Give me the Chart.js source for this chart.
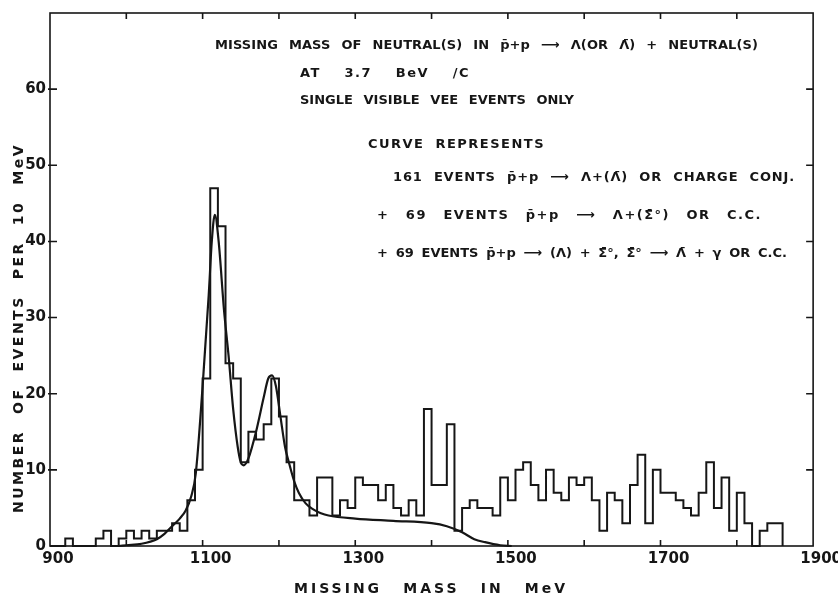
<!DOCTYPE html>
<html>
<head>
<meta charset="utf-8">
<script src="https://cdn.jsdelivr.net/npm/chart.js@4.4.0/dist/chart.umd.min.js"></script>
<style>
  html, body { margin: 0; padding: 0; background: #fff; }
</style>
</head>
<body>
<canvas id="canvas" width="838" height="599"></canvas>
<script>
// lower edge of each 10 MeV bin
const binLow = [
  900, 910, 920, 930, 940, 950, 960, 970, 980, 990,
  1000, 1010, 1020, 1030, 1040, 1050, 1060, 1070, 1080, 1090,
  1100, 1110, 1120, 1130, 1140, 1150, 1160, 1170, 1180, 1190,
  1200, 1210, 1220, 1230, 1240, 1250, 1260, 1270, 1280, 1290,
  1300, 1310, 1320, 1330, 1340, 1350, 1360, 1370, 1380, 1390,
  1400, 1410, 1420, 1430, 1440, 1450, 1460, 1470, 1480, 1490,
  1500, 1510, 1520, 1530, 1540, 1550, 1560, 1570, 1580, 1590,
  1600, 1610, 1620, 1630, 1640, 1650, 1660, 1670, 1680, 1690,
  1700, 1710, 1720, 1730, 1740, 1750, 1760, 1770, 1780, 1790,
  1800, 1810, 1820, 1830, 1840, 1850, 1860
];
// events per bin (last entry closes the histogram)
const counts = [
  0, 0, 1, 0, 0, 0, 1, 2, 0, 1,
  2, 1, 2, 1, 2, 2, 3, 2, 6, 10,
  22, 47, 42, 24, 22, 11, 15, 14, 16, 22,
  17, 11, 6, 6, 4, 9, 9, 4, 6, 5,
  9, 8, 8, 6, 8, 5, 4, 6, 4, 18,
  8, 8, 16, 2, 5, 6, 5, 5, 4, 9,
  6, 10, 11, 8, 6, 10, 7, 6, 9, 8,
  9, 6, 2, 7, 6, 3, 8, 12, 3, 10,
  7, 7, 6, 5, 4, 7, 11, 5, 9, 2,
  7, 3, 0, 2, 3, 3, 0
];

// fitted curve
const curveMass = [990, 1000, 1020, 1040, 1050, 1060, 1070, 1078, 1085, 1091, 1100, 1108, 1112, 1116, 1121, 1128, 1134, 1140, 1146, 1150, 1154, 1160, 1170, 1180, 1186, 1191, 1196, 1202, 1208, 1213, 1220, 1226, 1235, 1245, 1255, 1265, 1300, 1350, 1400, 1420, 1440, 1456, 1470, 1490, 1505];
const curveValue = [0, 0.1, 0.3, 0.9, 1.6, 2.6, 3.6, 4.7, 6.5, 9.5, 21, 33, 40, 43.5, 40, 31, 25, 18, 13, 11, 10.6, 11.5, 15, 19.5, 22, 22.4, 21, 17, 13, 11, 8.5, 7, 5.6, 4.8, 4.3, 4, 3.6, 3.3, 3.0, 2.6, 1.8, 0.9, 0.5, 0.1, 0];

const xTickLabels = [900, 1100, 1300, 1500, 1700, 1900];
const yTickLabels = [0, 10, 20, 30, 40, 50, 60];
const xTickMarks = [1000, 1100, 1200, 1300, 1400, 1500, 1600, 1700, 1800];
const yTickMarks = [10, 20, 30, 40, 50, 60];

const noteLines = [
  'MISSING MASS OF NEUTRAL(S) IN p\u0304+p \u27F6 \u039B(OR \u039B\u0304) + NEUTRAL(S)',
  'AT 3.7 BeV /C',
  'SINGLE VISIBLE VEE EVENTS ONLY',
  'CURVE REPRESENTS',
  '161 EVENTS p\u0304+p \u27F6 \u039B+(\u039B\u0304) OR CHARGE CONJ.',
  '+ 69 EVENTS p\u0304+p \u27F6 \u039B+(\u03A3\u0304\u00B0) OR C.C.',
  '+ 69 EVENTS p\u0304+p \u27F6 (\u039B) + \u03A3\u0304\u00B0, \u03A3\u0304\u00B0 \u27F6 \u039B\u0304 + \u03B3 OR C.C.'
];
const xTitle = 'MISSING MASS IN MeV';
const yTitle = 'NUMBER OF EVENTS PER 10 MeV';

// text placement (pixels): left, right, middle y
const noteBox = [
  [215, 758, 46], [300, 470, 74], [300, 574, 101], [368, 545, 145],
  [393, 795, 178], [377, 762, 216], [377, 787, 254]
];

const ink = '#161616';
const family = '"DejaVu Sans", sans-serif';
const hasSpacing = 'letterSpacing' in CanvasRenderingContext2D.prototype;

// spread a line from x0 to x1: some letter spacing, the rest in word gaps
function spreadText(ctx, text, x0, x1, y, wordGap, maxSpacing) {
  const words = text.split(' ');
  const letters = words.reduce((s, w) => s + [...w].length, 0);
  const natural = words.reduce((s, w) => s + ctx.measureText(w).width, 0);
  const room = x1 - x0 - natural - wordGap * (words.length - 1);
  const spacing = hasSpacing ? Math.max(0, Math.min(maxSpacing, room / letters)) : 0;
  if (hasSpacing) ctx.letterSpacing = spacing + 'px';
  const widths = words.map(w => ctx.measureText(w).width);
  const used = widths.reduce((s, w) => s + w, 0);
  const gap = words.length > 1 ? (x1 - x0 - used) / (words.length - 1) : 0;
  let x = x0;
  words.forEach((w, i) => {
    ctx.fillText(w, x, y);
    x += widths[i] + gap;
  });
  if (hasSpacing) ctx.letterSpacing = '0px';
}

const framePlugin = {
  id: 'frame',
  afterDatasetsDraw(chart) {
    const { ctx, chartArea: a, scales: { x, y } } = chart;
    ctx.save();
    ctx.strokeStyle = ink;
    ctx.lineWidth = 1.6;
    ctx.strokeRect(a.left, a.top, a.right - a.left, a.bottom - a.top);
    ctx.beginPath();
    xTickMarks.forEach(v => {
      const px = x.getPixelForValue(v);
      ctx.moveTo(px, a.bottom); ctx.lineTo(px, a.bottom - 6);
      ctx.moveTo(px, a.top); ctx.lineTo(px, a.top + 6);
    });
    yTickMarks.forEach(v => {
      const py = y.getPixelForValue(v);
      ctx.moveTo(a.left - 2, py); ctx.lineTo(a.left + 7, py);
      ctx.moveTo(a.right, py); ctx.lineTo(a.right - 7, py);
    });
    ctx.stroke();
    ctx.restore();
  }
};

const notesPlugin = {
  id: 'notes',
  afterDraw(chart) {
    const { ctx } = chart;
    ctx.save();
    ctx.fillStyle = ink;
    ctx.textBaseline = 'middle';
    ctx.textAlign = 'left';
    ctx.font = 'bold 13px ' + family;
    noteLines.forEach((t, i) => spreadText(ctx, t, noteBox[i][0], noteBox[i][1], noteBox[i][2], 11, 1.5));
    // axis titles
    ctx.font = 'bold 14px ' + family;
    spreadText(ctx, xTitle, 294, 568, 589, 16, 3);
    ctx.translate(19, 328);
    ctx.rotate(-Math.PI / 2);
    spreadText(ctx, yTitle, -185, 185, 0, 16, 3);
    ctx.restore();
  }
};

const histPoints = binLow.map((m, i) => ({ x: m, y: counts[i] }));
const curvePoints = curveMass.map((m, i) => ({ x: m, y: curveValue[i] }));

const ctx2 = document.getElementById('canvas').getContext('2d');
new Chart(ctx2, {
  type: 'line',
  data: {
    datasets: [
      {
        data: histPoints,
        stepped: 'before', // each bin holds its value up to the next edge
        borderColor: ink,
        borderWidth: 2,
        pointRadius: 0,
        fill: false,
        clip: 4
      },
      {
        data: curvePoints,
        borderColor: ink,
        borderWidth: 2.2,
        pointRadius: 0,
        cubicInterpolationMode: 'monotone',
        fill: false,
        clip: 4
      }
    ]
  },
  options: {
    responsive: false,
    animation: false,
    devicePixelRatio: 1,
    layout: { padding: { left: 0, right: 20, top: 6, bottom: 0 } },
    plugins: { legend: { display: false }, tooltip: { enabled: false } },
    scales: {
      x: {
        type: 'linear',
        min: 900,
        max: 1900,
        afterBuildTicks: s => { s.ticks = xTickLabels.map(v => ({ value: v })); },
        afterFit: s => { s.height = 53; },
        grid: { display: false, drawTicks: false },
        border: { display: false },
        ticks: {
          color: ink,
          font: { family: family, size: 15, weight: 'bold' },
          padding: 4,
          labelOffset: 8,
          maxRotation: 0,
          autoSkip: false,
          callback: v => String(v)
        }
      },
      y: {
        min: 0,
        max: 70,
        afterBuildTicks: s => { s.ticks = yTickLabels.map(v => ({ value: v })); },
        afterFit: s => { s.width = 50; },
        grid: { display: false, drawTicks: false },
        border: { display: false },
        ticks: {
          color: ink,
          font: { family: family, size: 15, weight: 'bold' },
          padding: 4
        }
      }
    }
  },
  plugins: [framePlugin, notesPlugin]
});
</script>
</body>
</html>
